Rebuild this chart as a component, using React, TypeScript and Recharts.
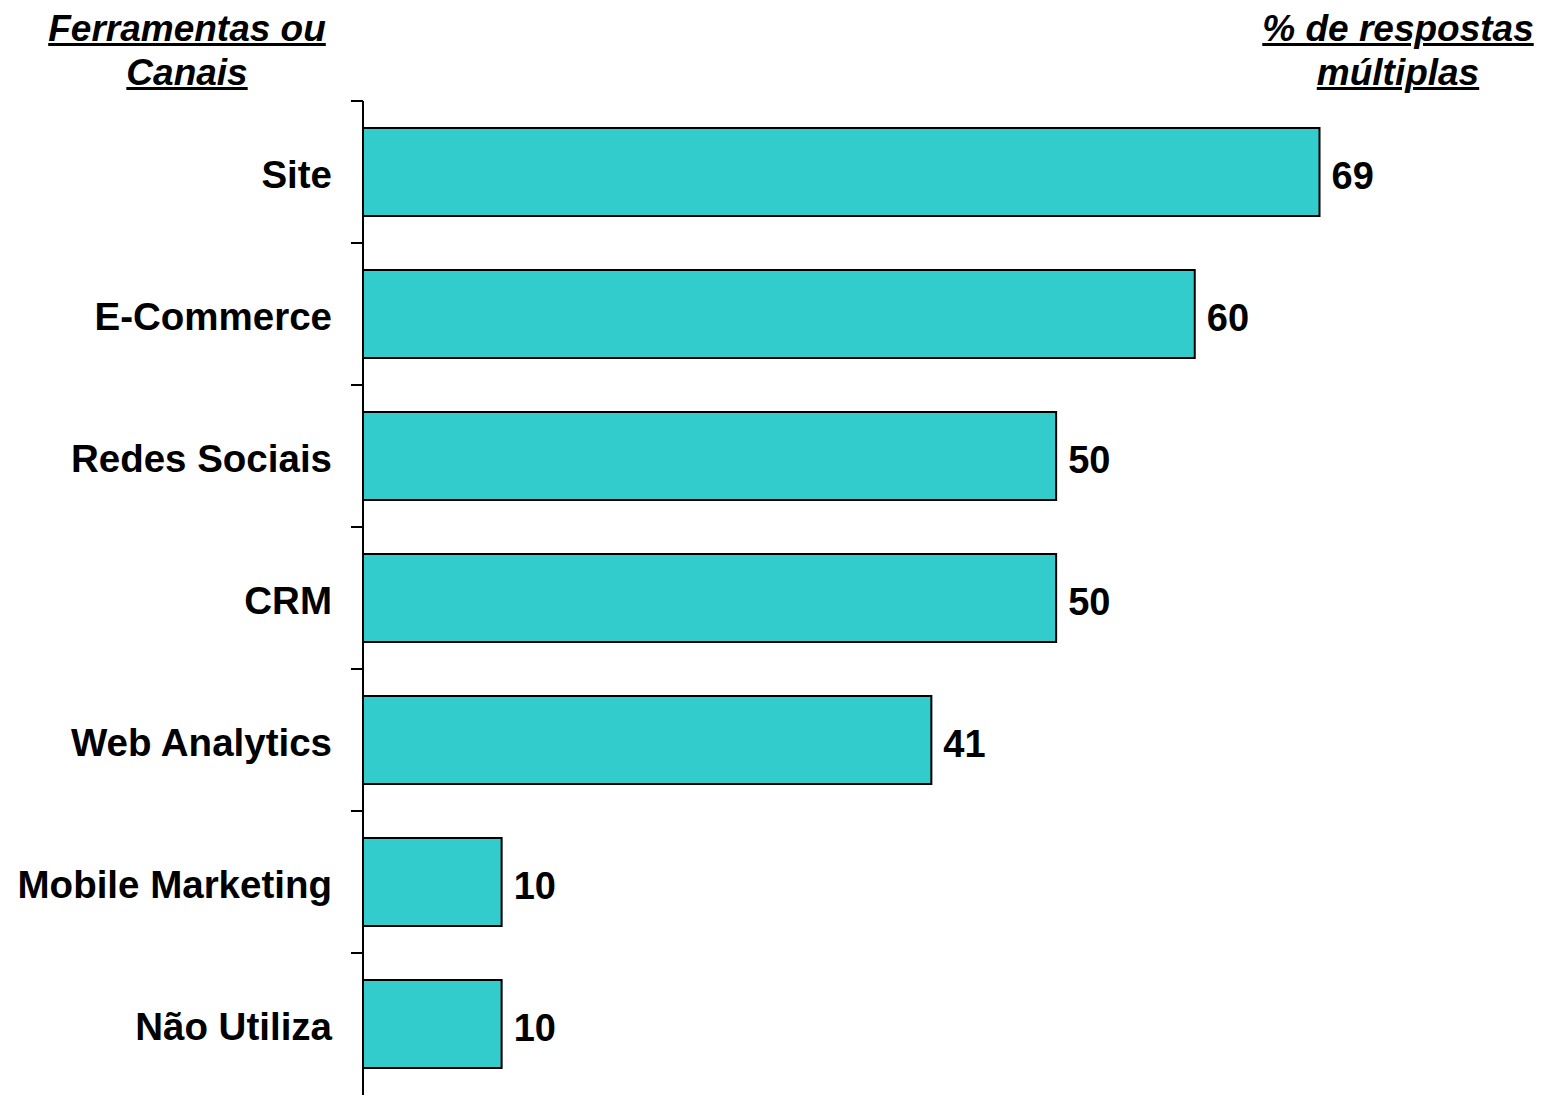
import React from 'react';
import { BarChart, Bar, XAxis, YAxis, LabelList } from 'recharts';

const categories = ['Site', 'E-Commerce', 'Redes Sociais', 'CRM', 'Web Analytics', 'Mobile Marketing', 'Não Utiliza'];
const values = [69, 60, 50, 50, 41, 10, 10];

const data = categories.map((name, i) => ({ name, value: values[i] }));

const FONT = '"Liberation Sans", Arial, sans-serif';
const CHART_W = 1543;
const CHART_H = 1096;
const MARGIN = { top: 101, right: 71, bottom: 1, left: 0 };
const BAND = (CHART_H - MARGIN.top - MARGIN.bottom) / categories.length;

const CategoryTick = (props: any) => {
  const { x, y, payload } = props;
  const half = payload && payload.offset ? payload.offset : BAND / 2;
  const axisX = x + 31;
  return (
    <g>
      <line x1={axisX - 12} x2={axisX} y1={y - half} y2={y - half} stroke="#000" strokeWidth={2} />
      <text
        x={x}
        y={y + 2}
        dy="0.36em"
        textAnchor="end"
        fontFamily={FONT}
        fontWeight="bold"
        fontSize={38.5}
        fill="#000"
      >
        {payload.value}
      </text>
    </g>
  );
};

const ValueLabel = (props: any) => {
  const { x, y, width, height, value } = props;
  return (
    <text
      x={x + width + 12}
      y={y + height / 2 + 3}
      dy="0.36em"
      textAnchor="start"
      fontFamily={FONT}
      fontWeight="bold"
      fontSize={38}
      fill="#000"
    >
      {value}
    </text>
  );
};

const titleStyle: React.CSSProperties = {
  position: 'absolute',
  top: 7,
  fontFamily: FONT,
  fontWeight: 'bold',
  fontStyle: 'italic',
  fontSize: 37,
  lineHeight: '44px',
  textAlign: 'center',
  textDecoration: 'underline',
  textDecorationThickness: '3px',
  color: '#000',
};

const App = () => {
  return (
    <div style={{ position: 'absolute', left: 0, top: 0, width: CHART_W, height: CHART_H, background: '#fff' }}>
      <BarChart width={CHART_W} height={CHART_H} data={data} layout="vertical" margin={MARGIN}>
        <XAxis type="number" domain={[0, 80]} hide />
        <YAxis
          type="category"
          dataKey="name"
          width={363}
          axisLine={{ stroke: '#000', strokeWidth: 2 }}
          tickLine={false}
          tickSize={12}
          tickMargin={19}
          tick={<CategoryTick />}
          interval={0}
        />
        <Bar dataKey="value" fill="#33CCCC" stroke="#000" strokeWidth={2} barSize={88} isAnimationActive={false}>
          <LabelList dataKey="value" content={<ValueLabel />} />
        </Bar>
      </BarChart>
      <div style={{ ...titleStyle, left: 27, width: 320 }}>
        Ferramentas ou
        <br />
        Canais
      </div>
      <div style={{ ...titleStyle, left: 1238, width: 320 }}>
        % de respostas
        <br />
        múltiplas
      </div>
    </div>
  );
};

export default App;
